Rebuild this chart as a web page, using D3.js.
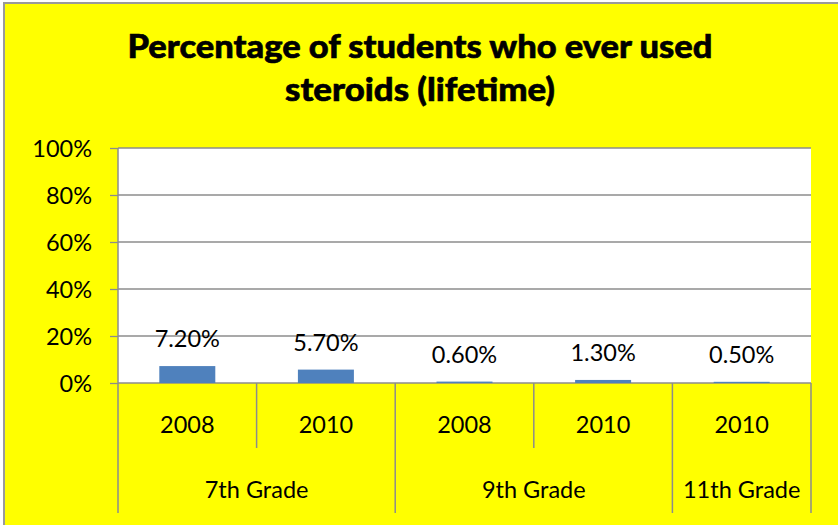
<!DOCTYPE html>
<html>
<head>
<meta charset="utf-8">
<script src="https://cdn.jsdelivr.net/npm/d3@7/dist/d3.min.js"></script>
<style>
  html, body { margin: 0; padding: 0; background: #ffffff; }
  svg { display: block; }
  text { font-family: Lato, "Open Sans", sans-serif; fill: #000; }
</style>
</head>
<body>
<script>
// Lifetime steroid use by grade and survey year
const grades = ["7th Grade", "9th Grade", "11th Grade"];
const years = ["2008", "2010", "2008", "2010", "2010"];
const gradeOfBar = [0, 0, 1, 1, 2];
const values = [7.2, 5.7, 0.6, 1.3, 0.5];
const yTicks = [0, 20, 40, 60, 80, 100];
const titleLines = ["Percentage of students who ever used", "steroids (lifetime)"];

const W = 838, H = 525;
const plot = { left: 118, right: 811, top: 148, bottom: 383 };
const yearRowBottom = 448, gradeRowBottom = 513;
const gridColor = "#8c8c8c";
const labelSize = 23.5;

const svg = d3.select("body").append("svg")
  .attr("width", W).attr("height", H);

// chart background with its frame
svg.append("rect")
  .attr("x", 4).attr("y", 3).attr("width", W + 10).attr("height", H + 10)
  .attr("fill", "#ffff00")
  .attr("stroke", "#9a9a9a").attr("stroke-width", 2);

// title
const title = svg.append("g");
title.selectAll("text").data(titleLines).join("text")
  .attr("x", 420)
  .attr("y", (d, i) => i === 0 ? 58 : 101)
  .attr("text-anchor", "middle")
  .attr("font-weight", 900)
  .attr("font-size", 33)
  .attr("stroke", "#000").attr("stroke-width", 0.6)
  .attr("textLength", (d, i) => i === 0 ? 585 : 270)
  .attr("lengthAdjust", "spacingAndGlyphs")
  .text(d => d);

// scales
const x = d3.scaleBand()
  .domain(d3.range(values.length))
  .range([plot.left, plot.right])
  .padding(0);
const barW = x.bandwidth() * 0.404;

const y = d3.scaleLinear().domain([0, 100]).range([plot.bottom, plot.top]);

// plot area
svg.append("rect")
  .attr("x", plot.left).attr("y", plot.top)
  .attr("width", plot.right - plot.left).attr("height", plot.bottom - plot.top)
  .attr("fill", "#ffffff");

// left ticks and percent labels
const yAxis = d3.axisLeft(y)
  .tickValues(yTicks)
  .tickSize(8)
  .tickPadding(0)
  .tickFormat(d => d + "%");
const yg = svg.append("g").attr("transform", `translate(${plot.left},0)`).call(yAxis);
yg.select(".domain").remove();
yg.selectAll(".tick line").attr("stroke", gridColor).attr("stroke-width", 1.3);
yg.selectAll(".tick text")
  .attr("x", -26)
  .attr("dy", null)
  .attr("y", 8)
  .attr("font-size", labelSize)
  .attr("font-family", "Lato, sans-serif");

// horizontal gridlines
svg.append("g").selectAll("line").data(yTicks).join("line")
  .attr("x1", plot.left).attr("x2", plot.right)
  .attr("y1", d => y(d)).attr("y2", d => y(d))
  .attr("stroke", gridColor).attr("stroke-width", 1.3);

// bars
svg.append("g").selectAll("rect").data(values).join("rect")
  .attr("x", (d, i) => x(i) + (x.bandwidth() - barW) / 2)
  .attr("y", d => y(d))
  .attr("width", barW)
  .attr("height", d => y(0) - y(d))
  .attr("fill", "#4f81bd");

// value labels
svg.append("g").selectAll("text").data(values).join("text")
  .attr("x", (d, i) => x(i) + x.bandwidth() / 2)
  .attr("y", d => y(d) - 19)
  .attr("text-anchor", "middle")
  .attr("font-size", labelSize)
  .text(d => d.toFixed(2) + "%");

// two-level category axis
const axisG = svg.append("g");
// vertical axis line continues through the category rows
axisG.append("line")
  .attr("x1", plot.left).attr("x2", plot.left)
  .attr("y1", plot.top).attr("y2", gradeRowBottom)
  .attr("stroke", gridColor).attr("stroke-width", 1.5);

// separators: between years within a grade (short), between grades (long)
const bounds = d3.range(1, values.length + 1).map(i => ({
  x: i < values.length ? x(i) : plot.right,
  long: i === values.length || gradeOfBar[i] !== gradeOfBar[i - 1]
}));
axisG.selectAll("line.sep").data(bounds).join("line")
  .attr("class", "sep")
  .attr("x1", d => d.x).attr("x2", d => d.x)
  .attr("y1", plot.bottom)
  .attr("y2", d => d.long ? gradeRowBottom : yearRowBottom)
  .attr("stroke", gridColor).attr("stroke-width", 1.5);

axisG.selectAll("text.year").data(years).join("text")
  .attr("class", "year")
  .attr("x", (d, i) => x(i) + x.bandwidth() / 2)
  .attr("y", 433)
  .attr("text-anchor", "middle")
  .attr("font-size", labelSize)
  .text(d => d);

const gradeSpans = grades.map((g, gi) => {
  const idx = d3.range(values.length).filter(i => gradeOfBar[i] === gi);
  return { name: g, x0: x(idx[0]), x1: x(idx[idx.length - 1]) + x.bandwidth() };
});
axisG.selectAll("text.grade").data(gradeSpans).join("text")
  .attr("class", "grade")
  .attr("x", d => (d.x0 + d.x1) / 2)
  .attr("y", 498)
  .attr("text-anchor", "middle")
  .attr("font-size", labelSize)
  .text(d => d.name);
</script>
</body>
</html>
